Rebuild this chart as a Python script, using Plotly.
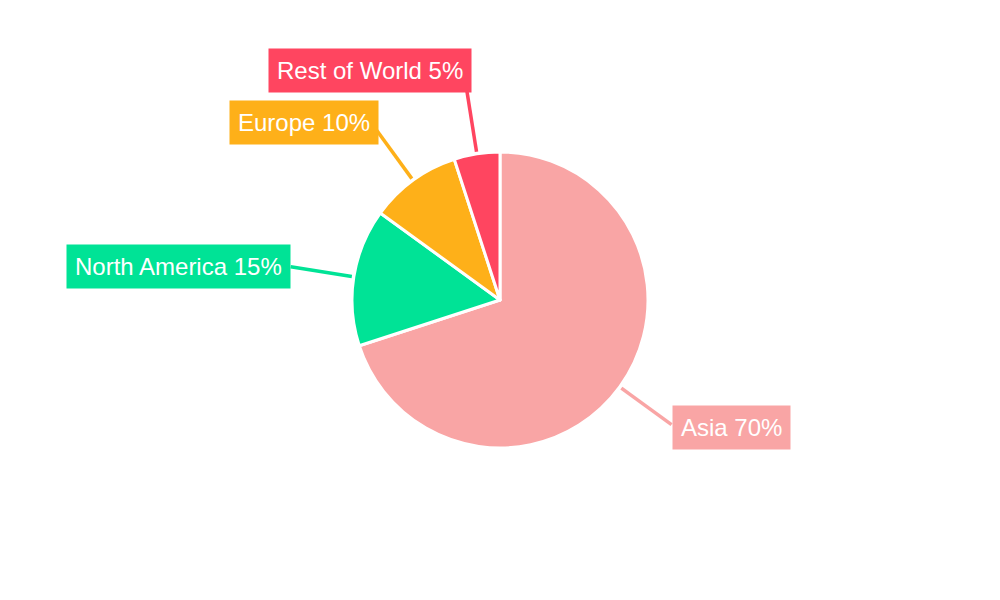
import math
import plotly.graph_objects as go

# Regional share data
regions = ["Asia", "North America", "Europe", "Rest of World"]
shares = [70, 15, 10, 5]
colors = ["#F9A5A5", "#00E396", "#FEB019", "#FF4560"]

W, H = 1000, 600
R = 148                     # pie radius in px
CX, CY = W / 2, H / 2       # pie centre in px
LINE_IN, LINE_OUT = 150, 212

fig = go.Figure(
    go.Pie(
        labels=regions,
        values=shares,
        sort=False,
        direction="clockwise",
        rotation=0,
        marker=dict(colors=colors, line=dict(color="white", width=3)),
        textinfo="none",
        hoverinfo="label+percent",
        domain=dict(x=[0, 1], y=[0.5 - R / H, 0.5 + R / H]),
        showlegend=False,
    )
)


def to_paper(px, py):
    return px / W, 1 - py / H


# Leader lines and boxed labels placed at each slice's mid-angle
total = sum(shares)
cum = 0
for name, val, col in zip(regions, shares, colors):
    mid = (cum + val / 2) / total * 2 * math.pi
    cum += val
    sx, sy = math.sin(mid), -math.cos(mid)
    x0, y0 = to_paper(CX + LINE_IN * sx, CY + LINE_IN * sy)
    x1, y1 = to_paper(CX + LINE_OUT * sx, CY + LINE_OUT * sy)
    fig.add_shape(type="line", xref="paper", yref="paper",
                  x0=x0, y0=y0, x1=x1, y1=y1,
                  line=dict(color=col, width=3.5))
    # labels near the top sit above their line end, lower ones slightly below
    yshift = max(0.0, -sy) ** 6 * 22 - max(0.0, sy) * 5
    xshift = 0 if sx > 0 else max(0.0, -sy) * 5
    fig.add_annotation(
        x=x1, y=y1, xref="paper", yref="paper",
        text=f"{name} {round(val / total * 100)}%",
        showarrow=False,
        xanchor="left" if sx > 0 else "right",
        yanchor="middle",
        xshift=xshift,
        yshift=yshift,
        bgcolor=col,
        borderpad=8,
        font=dict(family="Liberation Sans, Arial, sans-serif", size=24, color="white"),
    )

fig.update_layout(
    width=W, height=H,
    margin=dict(l=0, r=0, t=0, b=0),
    paper_bgcolor="white",
    plot_bgcolor="white",
)

fig.write_html("out.html")
